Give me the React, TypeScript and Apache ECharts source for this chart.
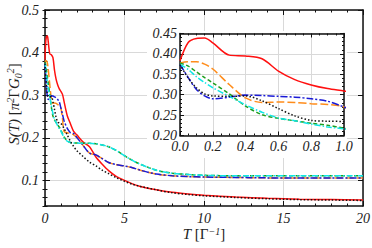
import React, { useEffect, useRef } from 'react';
import * as echarts from 'echarts';

// Shared time grid T [1/Γ]
const T = [0, 0.05, 0.1, 0.15, 0.2, 0.3, 0.4, 0.5, 0.6, 0.7, 0.8, 0.9, 1.0, 1.1, 1.2, 1.4, 1.6, 1.8, 2.0, 2.4, 2.8, 3.2, 3.6, 4.0, 4.5, 5, 5.5, 6, 7, 8, 9, 10, 12, 14, 16, 18, 20];

const redS = [0.383, 0.428, 0.438, 0.439, 0.427, 0.397, 0.395, 0.388, 0.358, 0.337, 0.324, 0.315, 0.309, 0.302, 0.285, 0.252, 0.233, 0.215, 0.207, 0.19, 0.179, 0.155, 0.138, 0.123, 0.109, 0.1, 0.092, 0.086, 0.078, 0.072, 0.068, 0.065, 0.061, 0.058, 0.056, 0.055, 0.054];
const orangeS = [0.378, 0.381, 0.381, 0.375, 0.363, 0.325, 0.292, 0.281, 0.282, 0.281, 0.278, 0.276, 0.27, 0.245, 0.215, 0.212, 0.21, 0.207, 0.201, 0.182, 0.164, 0.16, 0.151, 0.142, 0.137, 0.134, 0.13, 0.124, 0.115, 0.111, 0.109, 0.108, 0.107, 0.106, 0.106, 0.106, 0.106];
const greenS = [0.378, 0.37, 0.356, 0.342, 0.329, 0.302, 0.272, 0.251, 0.242, 0.236, 0.23, 0.225, 0.218, 0.21, 0.202, 0.193, 0.189, 0.188, 0.188, 0.187, 0.187, 0.186, 0.183, 0.179, 0.17, 0.158, 0.147, 0.138, 0.124, 0.117, 0.114, 0.112, 0.111, 0.111, 0.111, 0.111, 0.111];
const blueS = [0.374, 0.342, 0.313, 0.297, 0.29, 0.294, 0.299, 0.298, 0.296, 0.294, 0.29, 0.284, 0.27, 0.255, 0.24, 0.222, 0.212, 0.21, 0.201, 0.182, 0.164, 0.16, 0.151, 0.142, 0.137, 0.134, 0.13, 0.124, 0.115, 0.111, 0.109, 0.108, 0.107, 0.106, 0.106, 0.106, 0.106];
const cyanS = [0.374, 0.362, 0.344, 0.33, 0.317, 0.296, 0.275, 0.257, 0.243, 0.236, 0.228, 0.221, 0.216, 0.208, 0.2, 0.192, 0.189, 0.188, 0.188, 0.187, 0.187, 0.186, 0.183, 0.179, 0.17, 0.158, 0.147, 0.138, 0.124, 0.117, 0.114, 0.112, 0.111, 0.111, 0.111, 0.111, 0.111];
const blackS = [0.374, 0.341, 0.317, 0.302, 0.297, 0.296, 0.297, 0.285, 0.266, 0.248, 0.237, 0.235, 0.234, 0.228, 0.222, 0.207, 0.192, 0.18, 0.17, 0.156, 0.143, 0.134, 0.124, 0.116, 0.106, 0.098, 0.091, 0.086, 0.078, 0.071, 0.067, 0.064, 0.06, 0.057, 0.055, 0.054, 0.053];

const mainYTicks = [0.1, 0.2, 0.3, 0.4, 0.5];

const SERIES = [
  { name: 'red', values: redS, color: '#ff1010', type: 'solid' as any },
  { name: 'orange', values: orangeS, color: '#ff8c1a', type: [8, 3] },
  { name: 'green', values: greenS, color: '#1e9e1e', type: [4, 2.5] },
  { name: 'blue', values: blueS, color: '#1a1ad6', type: [7, 2, 2, 2] },
  { name: 'cyan', values: cyanS, color: '#10e6e6', type: [6, 2, 1.5, 2] },
  { name: 'black', values: blackS, color: '#111111', type: [1.5, 2] },
];

const SERIF = 'Liberation Serif';
const labelFont = { fontFamily: SERIF, fontStyle: 'italic', fontSize: 14, color: '#222' };
const frame = { show: true, onZero: false, lineStyle: { color: '#111', width: 1.5 } };
const tickStyle = { color: '#111', width: 1 };
const gridLine = { show: true, lineStyle: { color: '#d9d9d9', width: 1 } };

export default function App() {
  const ref = useRef<HTMLDivElement>(null);
  useEffect(() => {
    if (!ref.current) return;
    const chart = echarts.init(ref.current, undefined, { renderer: 'svg' });

    const mkData = (vals: number[]) => T.map((t, i) => [t, vals[i]]);
    const series: any[] = [];
    SERIES.forEach((s) => {
      series.push({
        type: 'line', xAxisIndex: 0, yAxisIndex: 0, data: mkData(s.values),
        showSymbol: false, smooth: 0.3, clip: true, z: 2,
        lineStyle: { color: s.color, width: 1.5, type: s.type },
      });
    });
    SERIES.forEach((s) => {
      series.push({
        type: 'line', xAxisIndex: 2, yAxisIndex: 4, data: mkData(s.values),
        showSymbol: false, smooth: 0.3, clip: true, z: 7,
        lineStyle: { color: s.color, width: 1.5, type: s.type },
      });
    });

    const option: any = {
      animation: false,
      backgroundColor: '#ffffff',
      textStyle: { fontFamily: SERIF },
      grid: [
        { left: 45, top: 10, width: 318, height: 196, containLabel: false, outerBoundsMode: 'none' },
        { left: 180, top: 33.5, width: 164, height: 102, containLabel: false, outerBoundsMode: 'none', z: 6 },
      ],
      xAxis: [
        {
          gridIndex: 0, type: 'value', min: 0, max: 20, interval: 5, position: 'bottom',
          axisLine: frame,
          axisTick: { inside: true, length: 5, lineStyle: tickStyle },
          minorTick: { show: true, splitNumber: 5, length: 2.5, lineStyle: tickStyle },
          axisLabel: { ...labelFont, margin: 5 },
          splitLine: gridLine,
        },
        {
          gridIndex: 0, type: 'value', min: 0, max: 20, interval: 5, position: 'top',
          axisLine: frame,
          axisTick: { inside: true, length: 5, lineStyle: tickStyle },
          minorTick: { show: true, splitNumber: 5, length: 2.5, lineStyle: tickStyle },
          axisLabel: { show: false }, splitLine: { show: false },
        },
        {
          gridIndex: 1, type: 'value', min: 0, max: 1, interval: 0.2, position: 'bottom', z: 6,
          axisLine: frame,
          axisTick: { inside: true, length: 4, lineStyle: tickStyle },
          minorTick: { show: true, splitNumber: 4, length: 2, lineStyle: tickStyle },
          axisLabel: { ...labelFont, margin: 4, formatter: (v: number) => v.toFixed(1) },
          splitLine: gridLine,
        },
        {
          gridIndex: 1, type: 'value', min: 0, max: 1, interval: 0.2, position: 'top', z: 6,
          axisLine: frame,
          axisTick: { inside: true, length: 4, lineStyle: tickStyle },
          minorTick: { show: true, splitNumber: 4, length: 2, lineStyle: tickStyle },
          axisLabel: { show: false }, splitLine: { show: false },
        },
      ],
      yAxis: [
        {
          gridIndex: 0, type: 'value', min: 0.04, max: 0.5, position: 'left',
          axisLine: frame,
          axisTick: { inside: true, length: 5, lineStyle: tickStyle, customValues: mainYTicks },
          axisLabel: { ...labelFont, margin: 6, customValues: mainYTicks, formatter: (v: number) => v.toFixed(1) },
          splitLine: gridLine,
        },
        {
          gridIndex: 0, type: 'value', min: 0.04, max: 0.5, interval: 0.02, position: 'left',
          axisLine: { show: false },
          axisTick: { inside: true, length: 2.5, lineStyle: tickStyle },
          axisLabel: { show: false }, splitLine: { show: false },
        },
        {
          gridIndex: 0, type: 'value', min: 0.04, max: 0.5, position: 'right',
          axisLine: frame,
          axisTick: { inside: true, length: 5, lineStyle: tickStyle, customValues: mainYTicks },
          axisLabel: { show: false, customValues: mainYTicks }, splitLine: { show: false },
        },
        {
          gridIndex: 0, type: 'value', min: 0.04, max: 0.5, interval: 0.02, position: 'right',
          axisLine: { show: false },
          axisTick: { inside: true, length: 2.5, lineStyle: tickStyle },
          axisLabel: { show: false }, splitLine: { show: false },
        },
        {
          gridIndex: 1, type: 'value', min: 0.2, max: 0.45, interval: 0.05, position: 'left', z: 6,
          axisLine: frame,
          axisTick: { inside: true, length: 4, lineStyle: tickStyle },
          minorTick: { show: true, splitNumber: 5, length: 2, lineStyle: tickStyle },
          axisLabel: { ...labelFont, margin: 3, formatter: (v: number) => v.toFixed(2) },
          splitLine: gridLine,
        },
        {
          gridIndex: 1, type: 'value', min: 0.2, max: 0.45, interval: 0.05, position: 'right', z: 6,
          axisLine: frame,
          axisTick: { inside: true, length: 4, lineStyle: tickStyle },
          minorTick: { show: true, splitNumber: 5, length: 2, lineStyle: tickStyle },
          axisLabel: { show: false }, splitLine: { show: false },
        },
      ],
      graphic: {
        elements: [
          {
            type: 'rect', z: 5, silent: true,
            shape: { x: 147, y: 31, width: 200, height: 127 },
            style: { fill: '#ffffff' },
          },
          {
            type: 'text', z: 20, x: 14, y: 104, rotation: Math.PI / 2,
            style: {
              text: '{i|S(T)}{n| [}{i|π}{sup|2}{n|Γ}{i|G}{sub|0}{sup|2}{n|]}',
              align: 'center', verticalAlign: 'middle',
              rich: {
                i: { fontFamily: SERIF, fontStyle: 'italic', fontSize: 15, lineHeight: 18, fill: '#222' },
                n: { fontFamily: SERIF, fontSize: 15, lineHeight: 18, fill: '#222' },
                sup: { fontFamily: SERIF, fontStyle: 'italic', fontSize: 10, lineHeight: 11, verticalAlign: 'top', fill: '#222' },
                sub: { fontFamily: SERIF, fontStyle: 'italic', fontSize: 10, lineHeight: 11, verticalAlign: 'bottom', fill: '#222' },
              },
            },
          },
          {
            type: 'text', z: 20, x: 204, y: 234,
            style: {
              text: '{i|T}{n| [Γ}{sup|−1}{n|]}',
              align: 'center', verticalAlign: 'middle',
              rich: {
                i: { fontFamily: SERIF, fontStyle: 'italic', fontSize: 15, lineHeight: 16, fill: '#222' },
                n: { fontFamily: SERIF, fontSize: 15, lineHeight: 16, fill: '#222' },
                sup: { fontFamily: SERIF, fontStyle: 'italic', fontSize: 10, lineHeight: 10, verticalAlign: 'top', fill: '#222' },
              },
            },
          },
        ],
      },
      series,
    };
    chart.setOption(option);
    return () => chart.dispose();
  }, []);
  return (
    <div
      ref={ref}
      style={{ position: 'fixed', left: 0, top: 0, width: 372, height: 248, background: '#fff' }}
    />
  );
}
